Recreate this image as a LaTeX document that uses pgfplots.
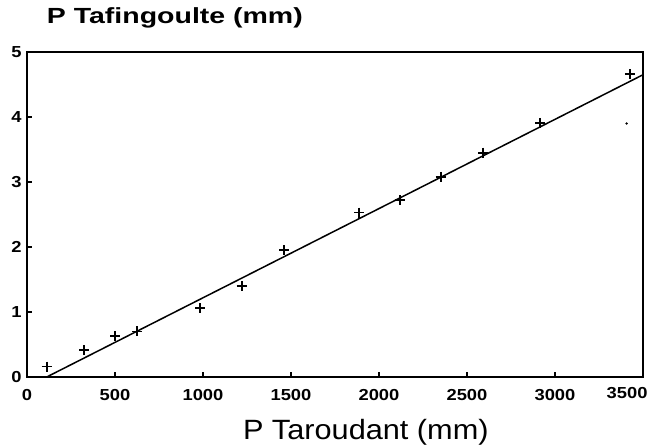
\documentclass[border=0pt]{standalone}
\usepackage{fontspec}
\setmainfont{Liberation Sans}
\newfontfamily\tickfont[FakeStretch=1.15]{Liberation Sans}
\newfontfamily\titlefont[FakeStretch=1.3]{Liberation Sans}
\newfontfamily\xlabfont[FakeStretch=1.1]{Liberation Sans}
\usepackage{pgfplots}
\pgfplotsset{compat=1.18}
\begin{document}
\begin{tikzpicture}
\useasboundingbox (0,0) rectangle (653bp,446bp);
\begin{axis}[
  at={(27bp,69bp)}, anchor=south west,
  width=616bp, height=325bp, scale only axis,
  xmin=0, xmax=3500, ymin=0, ymax=5,
  xtick={0,500,...,3000}, ytick={0,1,2,3,4,5},
  extra x ticks={3500},
  extra x tick style={xticklabel style={anchor=north east, xshift=8bp, yshift=2bp}},
  tick pos=left, tick align=inside,
  major tick length=5bp,
  axis line style={line width=1.6bp},
  every tick/.style={line width=1.4bp, black},
  /pgf/number format/assume math mode=true,
  /pgf/number format/set thousands separator={},
  ticklabel style={font=\tickfont\bfseries\fontsize{16}{16}\selectfont},
  xticklabel style={yshift=-9bp},
  yticklabel style={xshift=-2bp},
  xlabel={P Taroudant (mm)},
  xlabel style={at={(axis description cs:0.55,-0.1923)}, anchor=base, font=\xlabfont\fontsize{28}{28}\selectfont},
  title={P Tafingoulte (mm)},
  title style={at={(axis description cs:0.24,1.0708)}, anchor=base, font=\titlefont\bfseries\fontsize{22}{22}\selectfont},
]
\addplot[black, line width=1.5bp] coordinates {(112,0) (3500,4.65)};
\addplot[only marks, mark=+, mark size=5bp, mark options={line width=1.8bp, black}] coordinates {
(112,0.16) (324,0.41) (500,0.63) (627,0.70) (983,1.06) (1220,1.40) (1462,1.95)
(1888,2.53) (2119,2.72) (2350,3.08) (2593,3.45) (2915,3.91) (3426,4.66)
};
\addplot[only marks, mark=*, mark size=0.9bp, black] coordinates {(3407,3.90)};
\end{axis}
\end{tikzpicture}
\end{document}
